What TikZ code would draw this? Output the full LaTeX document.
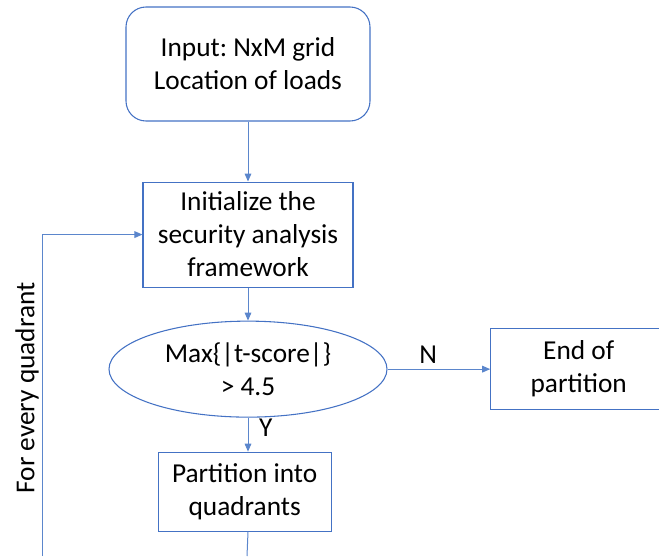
\documentclass[tikz,border=0pt]{standalone}
\usepackage{fontspec}
\setmainfont{Carlito}
\usepackage{xcolor}
\usetikzlibrary{arrows.meta,positioning,shapes.geometric}
\definecolor{Office}{HTML}{4472C4}
\definecolor{Edge}{HTML}{5B86CC}
\frenchspacing

\begin{document}
\begin{tikzpicture}[x=0.75pt,y=0.75pt,
        txt/.style={font=\fontsize{20.5}{24.75}\selectfont,align=center,inner sep=1pt},
        b/.style={draw=Office,line width=0.8pt,txt},
        a/.style={-{Triangle[length=6pt,width=5pt]},line width=0.75pt,draw=Edge},
        l/.style={line width=0.75pt,draw=Edge}]
        \useasboundingbox (0,0) rectangle (659,-556);
        \node[b,rounded corners=15pt,minimum width=183pt,minimum height=85.5pt] (inp) at (248,-64) {Input: NxM grid\\Location of loads};
        \node[b,minimum width=157.5pt,minimum height=78.75pt,below=45pt of inp.south,anchor=north] (init) {Initialize the\\security analysis\\framework};
        \node[b,ellipse,inner sep=0pt,minimum width=208.5pt,minimum height=72pt,below=24.75pt of init.south,anchor=north] (dec) {Max\{|t-score|\}\\> 4.5};
        \node[b,minimum width=132pt,minimum height=60.75pt,right=77pt of dec.east,anchor=west] (end) {End of\\partition};
        \node[b,minimum width=129.75pt,minimum height=59.25pt,below=25.5pt of dec.south,anchor=north,xshift=-2.5pt] (part) {Partition into\\quadrants};
        \coordinate (lbot) at (42,-556);
        \coordinate (pbot) at (247,-556);
        \node[txt,rotate=90] (every) at (27,-388) {For every quadrant};
        \draw[a] (inp) -- (init);
        \draw[a] (init) -- (dec);
        \draw[a] (dec) -- node[txt,above,yshift=3pt,xshift=-8pt] (n) {N} (end);
        \draw[a] (dec.south) -- node[txt,right,xshift=7pt,pos=0.3] (y) {Y} (dec.south |- part.north);
        \draw[l] (dec.south |- part.south) -- (pbot);
        \draw[a] (lbot) |- (init.west);
      \end{tikzpicture}
\end{document}
